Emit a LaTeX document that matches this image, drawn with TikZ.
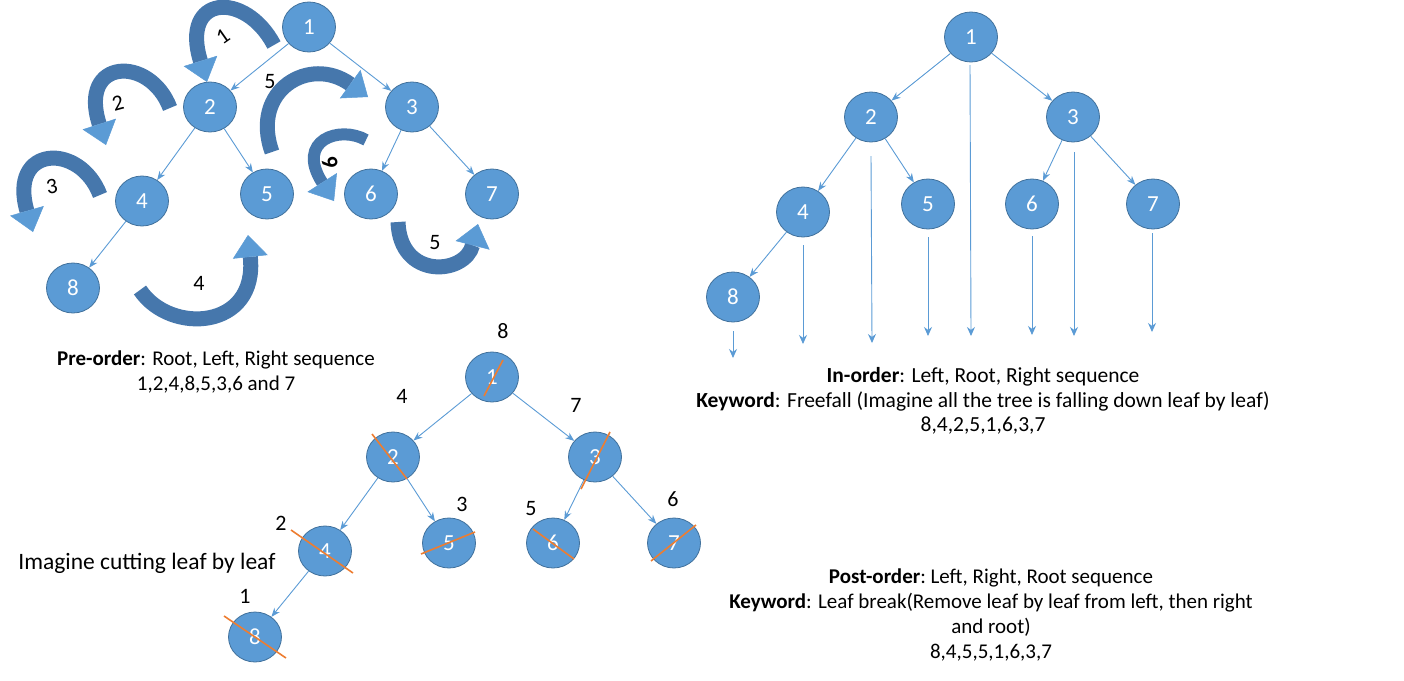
\documentclass[tikz,border=0pt]{standalone}
\usepackage{fontspec}
\setmainfont{Carlito}
\usetikzlibrary{shapes.geometric,arrows.meta}
\definecolor{nodeblue}{HTML}{5B9BD5}
\definecolor{nodeedge}{HTML}{41719C}
\definecolor{bandblue}{HTML}{4677AC}
\definecolor{cutorange}{HTML}{ED7D31}
\begin{document}
\begin{tikzpicture}[x=1pt,y=-1pt,
  tnode/.style={ellipse, fill=nodeblue, draw=nodeedge, line width=0.8pt,
    minimum width=53pt, minimum height=50pt, inner sep=0pt, text=white,
    font=\fontsize{23}{23}\selectfont},
  edge/.style={draw=nodeblue, line width=0.9pt, -{Stealth[length=9pt,width=7pt]}},
  vline/.style={draw=nodeblue, line width=0.9pt, -{Stealth[length=9pt,width=8pt]}},
  curv/.style={draw=bandblue, line width=15pt,
    -{Triangle[width=35pt,length=22pt,line width=0.5pt,fill=nodeblue,color=nodeblue]}},
  lbl/.style={text=black, font=\fontsize{22}{22}\selectfont, inner sep=0pt},
  cut/.style={draw=cutorange, line width=1.6pt},
  txt/.style={text=black, align=center, inner sep=0pt,
    font=\fontsize{21}{24.7}\selectfont}
]
\useasboundingbox (0,0) rectangle (1404,680);

% ---------- Pre-order tree ----------
\node[tnode] (a1) at (309,27) {1};
\node[tnode] (a2) at (210,107) {2};
\node[tnode] (a3) at (412,107) {3};
\node[tnode] (a4) at (142,201) {4};
\node[tnode] (a5) at (267,194) {5};
\node[tnode] (a6) at (371,194) {6};
\node[tnode] (a7) at (492,194) {7};
\node[tnode] (a8) at (73,288) {8};
\draw[edge] (a1) -- (a2);
\draw[edge] (a1) -- (a3);
\draw[edge] (a2) -- (a4);
\draw[edge] (a2) -- (a5);
\draw[edge] (a3) -- (a6);
\draw[edge] (a3) -- (a7);
\draw[edge] (a4) -- (a8);

% curved block arrows
\draw[curv] (274,45) .. controls (245,-10) and (180,-5) .. (207,82);
\draw[curv] (170,108) .. controls (150,55) and (78,58) .. (106,145);
\draw[curv] (100,195) .. controls (80,142) and (8,145) .. (33,232);
\draw[curv] (140,290) .. controls (170,335) and (258,330) .. (248,235);
\draw[curv] (272,152) .. controls (250,90) and (310,55) .. (368,97);
\draw[curv, line width=12pt] (366,140) .. controls (340,125) and (295,140) .. (334,201);
\draw[curv] (398,222) .. controls (400,280) and (465,275) .. (478,224);

\node[lbl, rotate=35] (n1) at (223,37) {1};
\node[lbl, rotate=15] (n2) at (118,103) {2};
\node[lbl, rotate=10] (n3) at (52,187) {3};
\node[lbl] (n4) at (199,283) {4};
\node[lbl] (n5a) at (270,82) {5};
\node[lbl, rotate=105, font=\fontsize{22}{22}\selectfont\bfseries] (n6) at (330,163) {6};
\node[lbl] (n5b) at (435,243) {5};

\node[txt] (pre) at (216,372) {\textbf{Pre-order}: Root, Left, Right sequence\\1,2,4,8,5,3,6 and 7};

% ---------- In-order tree ----------
\node[tnode] (b1) at (971,37) {1};
\node[tnode] (b2) at (871,117) {2};
\node[tnode] (b3) at (1073,117) {3};
\node[tnode] (b4) at (803,212) {4};
\node[tnode] (b5) at (928,204) {5};
\node[tnode] (b6) at (1032,204) {6};
\node[tnode] (b7) at (1153,204) {7};
\node[tnode] (b8) at (733,297) {8};
\draw[edge] (b1) -- (b2);
\draw[edge] (b1) -- (b3);
\draw[edge] (b2) -- (b4);
\draw[edge] (b2) -- (b5);
\draw[edge] (b3) -- (b6);
\draw[edge] (b3) -- (b7);
\draw[edge] (b4) -- (b8);

\coordinate (f8s) at (733,331);  \coordinate (f8e) at (733,358);
\coordinate (f4s) at (803,245);  \coordinate (f4e) at (803,344);
\coordinate (f2s) at (871,156);  \coordinate (f2e) at (872,343);
\coordinate (f5s) at (928,237);  \coordinate (f5e) at (928,336);
\coordinate (f1s) at (970,65);   \coordinate (f1e) at (971,336);
\coordinate (f6s) at (1032,236); \coordinate (f6e) at (1032,335);
\coordinate (f3s) at (1074,152); \coordinate (f3e) at (1074,336);
\coordinate (f7s) at (1152,233); \coordinate (f7e) at (1152,332);
\foreach \k in {8,4,2,5,1,6,3,7} {\draw[vline] (f\k s) -- (f\k e);}

\node[txt, font=\fontsize{21.5}{24.7}\selectfont] (ino) at (983,401) {\textbf{In-order}: Left, Root, Right sequence\\
  \textbf{Keyword}: Freefall (Imagine all the tree is falling down leaf by leaf)\\
  8,4,2,5,1,6,3,7};

% ---------- Post-order tree ----------
\node[tnode] (p1) at (492,377) {1};
\node[tnode] (p2) at (393,457) {2};
\node[tnode] (p3) at (595,457) {3};
\node[tnode] (p4) at (325,551) {4};
\node[tnode] (p5) at (449,543) {5};
\node[tnode] (p6) at (553,543) {6};
\node[tnode] (p7) at (674,543) {7};
\node[tnode] (p8) at (255,637) {8};
\draw[edge] (p1) -- (p2);
\draw[edge] (p1) -- (p3);
\draw[edge] (p2) -- (p4);
\draw[edge] (p2) -- (p5);
\draw[edge] (p3) -- (p6);
\draw[edge] (p3) -- (p7);
\draw[edge] (p4) -- (p8);

\draw[cut] ([shift={(-8,19)}]p1.center) -- ([shift={(11,-17)}]p1.center);
\draw[cut] ([shift={(-21,-23)}]p2.center) -- ([shift={(14,22)}]p2.center);
\draw[cut] ([shift={(-14,32)}]p3.center) -- ([shift={(15,-25)}]p3.center);
\draw[cut] ([shift={(-34,-21)}]p4.center) -- ([shift={(28,22)}]p4.center);
\draw[cut] ([shift={(-28,11)}]p5.center) -- ([shift={(26,-11)}]p5.center);
\draw[cut] ([shift={(-20,-14)}]p6.center) -- ([shift={(21,16)}]p6.center);
\draw[cut] ([shift={(-23,18)}]p7.center) -- ([shift={(22,-18)}]p7.center);
\draw[cut] ([shift={(-31,-21)}]p8.center) -- ([shift={(31,21)}]p8.center);

\node[lbl] (q8) at (503,331) {8};
\node[lbl] (q4) at (402,396) {4};
\node[lbl] (q7) at (576,405) {7};
\node[lbl] (q3) at (462,504) {3};
\node[lbl] (q5) at (531,509) {5};
\node[lbl] (q6) at (673,499) {6};
\node[lbl] (q2) at (281,523) {2};
\node[lbl] (q1) at (245,596) {1};

\node[txt, font=\fontsize{23.5}{26}\selectfont] (cutting) at (147,563) {Imagine cutting leaf by leaf};

\node[txt] (post) at (991,615) {\textbf{Post-order}:\ Left, Right, Root sequence\\
  \textbf{Keyword}: Leaf break(Remove\ leaf by leaf from left, then right\\
  and root)\\
  8,4,5,5,1,6,3,7};
\end{tikzpicture}
\end{document}
